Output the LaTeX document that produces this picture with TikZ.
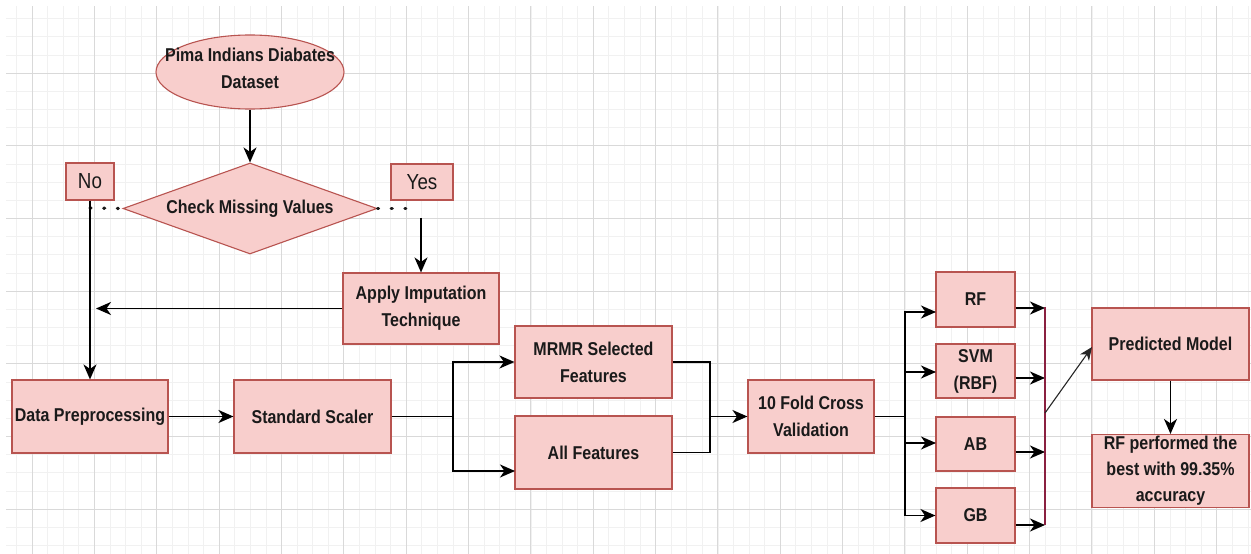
\documentclass[tikz,border=0pt]{standalone}
\usepackage{fontspec}
\setmainfont{Liberation Sans}
\newfontfamily\lab{Liberation Sans}[FakeStretch=0.862]
\usetikzlibrary{shapes.geometric,arrows.meta}
\definecolor{boxfill}{HTML}{F8CECC}
\definecolor{boxdraw}{HTML}{B85450}
\definecolor{txt}{HTML}{1A1A1A}
\definecolor{gmaj}{HTML}{D9D9D9}
\definecolor{gmin}{HTML}{F1F1F1}
\definecolor{barcol}{HTML}{8A2040}
\begin{document}
\begin{tikzpicture}[x=1pt,y=-1pt,
  lbl/.style={text=txt, align=center, font=\lab\bfseries\fontsize{18.56}{27}\selectfont},
  box/.style={lbl, draw=boxdraw, fill=boxfill, line width=1.1pt, inner sep=0pt},
  tag/.style={box, font=\lab\fontsize{21.8}{24}\selectfont},
  conn/.style={line width=1.9pt, draw=black},
  arr/.style={conn, -{Stealth[length=15pt,width=13pt,inset=4.5pt]}},
  dots/.style={line width=3.2pt, line cap=round, dash pattern=on 1pt off 12.67pt, draw=txt}]
\useasboundingbox (0,0) rectangle (1251,554);
\fill[white] (0,0) rectangle (1251,554);
% grid
\foreach \i in {-1,...,78} \draw[gmin, line width=0.6pt] ({32+15.5875*\i},6) -- ({32+15.5875*\i},554);
\foreach \j in {-3,...,26} \draw[gmin, line width=0.6pt] (6,{73+18.1675*\j}) -- (1251,{73+18.1675*\j});
\foreach \i in {0,...,19} \draw[gmaj, line width=1pt] ({32+62.35*\i},6) -- ({32+62.35*\i},554);
\foreach \j in {0,...,6} \draw[gmaj, line width=1pt] (6,{73+72.67*\j}) -- (1251,{73+72.67*\j});

% nodes
\node[draw=boxdraw, fill=boxfill, line width=1.1pt, ellipse, minimum width=188pt, minimum height=74pt, inner sep=0pt] (el) at (250,72) {};
\node[lbl] (elt) at (250,68) {Pima Indians Diabates\\Dataset};
\node[box, diamond, aspect=2.79, minimum width=254pt, minimum height=91pt] (dia) at (250,208.5) {Check Missing Values};
\node[tag, minimum width=48pt, minimum height=37pt] (no) at (90,181.5) {No};
\node[tag, minimum width=62pt, minimum height=36pt] (yes) at (422,182) {Yes};
\node[box, minimum width=156pt, minimum height=71pt] (ap) at (421,308.5) {Apply Imputation\\Technique};
\node[box, minimum width=156pt, minimum height=73pt] (dp) at (90,416.5) {Data Preprocessing};
\node[box, minimum width=157pt, minimum height=73pt] (ss) at (312.5,416.5) {Standard Scaler};
\node[box, minimum width=157pt, minimum height=72pt] (mrmr) at (593.5,362) {MRMR Selected\\Features};
\node[box, minimum width=157pt, minimum height=73pt] (all) at (593.5,452.5) {All Features};
\node[box, minimum width=126pt, minimum height=73pt] (cv) at (811,416.5) {10 Fold Cross\\Validation};
\node[box, minimum width=79pt, minimum height=55pt] (rf) at (975.5,299.5) {RF};
\node[box, minimum width=79pt, minimum height=54pt] (svm) at (975.5,371) {SVM\\(RBF)};
\node[box, minimum width=79pt, minimum height=54pt] (ab) at (975.5,444) {AB};
\node[box, minimum width=79pt, minimum height=55pt] (gb) at (975.5,515.5) {GB};
\node[box, minimum width=157pt, minimum height=72pt] (pm) at (1170.5,344) {Predicted Model};
\node[box, minimum width=157pt, minimum height=73pt, font=\lab\bfseries\fontsize{18.56}{26}\selectfont] (res) at (1170.5,471) {RF performed the\\best with 99.35\%\\accuracy};

% coordinates
\coordinate (nl) at (90,208);
\coordinate (yr) at (418,208.5);
\coordinate (ys) at (421,218);
\coordinate (ae) at (96,308.5);
\coordinate (j1) at (453,416.5);
\coordinate (a1) at (515,471);
\coordinate (j2) at (710,416.5);
\coordinate (j3) at (905,416.5);
\coordinate (l1) at (936,312);
\coordinate (l2) at (936,372);
\coordinate (l3) at (936,443);
\coordinate (r1) at (1045,308);
\coordinate (r2) at (1045,378);
\coordinate (r3) at (1045,452);
\coordinate (r4) at (1045,525);
\coordinate (bt) at (1045,307);
\coordinate (jb) at (1045,413);
\coordinate (pmi) at (1092,347);

% connectors
\draw[arr] (el.south) -- (dia.north);
\draw[dots] (nl) -- (dia.west);
\draw[dots] (dia.east) -- (yr);
\draw[arr] (no.south) -- (dp.north);
\draw[arr] (ys) -- (ap.north);
\draw[arr] (ap.west) -- (ae);
\draw[arr] (dp.east) -- (ss.west);
\draw[conn] (ss.east) -- (j1);
\draw[arr] (j1) |- (mrmr.west);
\draw[arr] (j1) |- (a1);
\draw[conn, line join=miter] (mrmr.east) -| (j2);
\draw[conn, line join=miter] (all.east) -| (j2);
\draw[arr] (j2) -- (cv.west);
\draw[conn] (cv.east) -- (j3);
\draw[arr] (j3) |- (l1);
\draw[arr] (j3) |- (l2);
\draw[arr] (j3) |- (l3);
\draw[arr] (j3) |- (gb.west);
\draw[arr] (rf.east |- r1) -- (r1);
\draw[arr] (svm.east |- r2) -- (r2);
\draw[arr] (ab.east |- r3) -- (r3);
\draw[arr] (gb.east |- r4) -- (r4);
\draw[line width=1.6pt, barcol] (bt) -- (r4);
\draw[line width=1.1pt, draw=black!85, -{Stealth[length=13pt,width=11pt,inset=4pt]}] (jb) -- (pmi);
\draw[arr] (pm.south) -- (res.north);
\end{tikzpicture}
\end{document}
